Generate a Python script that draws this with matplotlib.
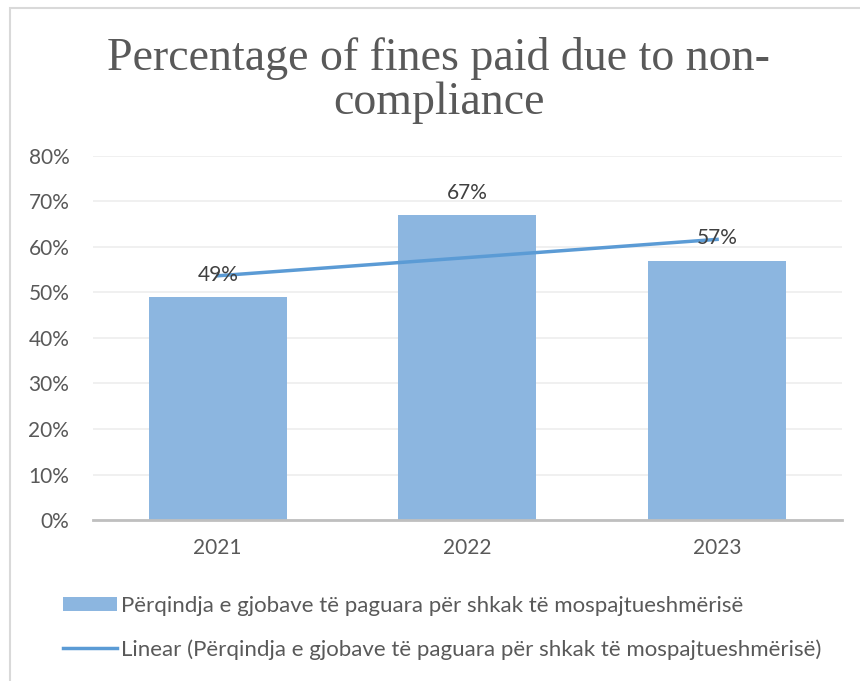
import numpy as np
import matplotlib.pyplot as plt
from matplotlib.patches import Rectangle

years = ['2021', '2022', '2023']
values = [0.49, 0.67, 0.57]
y_ticks = [0, 0.1, 0.2, 0.3, 0.4, 0.5, 0.6, 0.7, 0.8]
y_ticklabels = ['0%', '10%', '20%', '30%', '40%', '50%', '60%', '70%', '80%']
title = 'Percentage of fines paid due to non-\ncompliance'
series_name = 'Përqindja e gjobave të paguara për shkak të mospajtueshmërisë'

plt.rcParams['font.family'] = ['Lato', 'DejaVu Sans']

fig = plt.figure(figsize=(8.6, 6.81), dpi=100)
ax = fig.add_axes([0.108, 0.2364, 0.871, 0.5346])

# outer chart border
fig.patches.append(Rectangle((10 / 860, -0.1), 1.2, 1 - 8 / 681 + 0.1, transform=fig.transFigure,
                             fill=False, edgecolor='#D9D9D9', linewidth=1.5))

x = np.arange(len(years))
bars = ax.bar(x, values, width=0.553, color='#8CB6E0', label=series_name, zorder=2)

# linear trendline
k, b = np.polyfit(x, values, 1)
trend, = ax.plot(x[[0, -1]], k * x[[0, -1]] + b, color='#5B9BD5', linewidth=2.5,
                 label='Linear (' + series_name + ')', zorder=3)

for xi, v in zip(x, values):
    ax.annotate('{:.0f}%'.format(v * 100), (xi, v), xytext=(0, 9), textcoords='offset points',
                ha='center', va='bottom', fontsize=15, color='#404040', zorder=4)

ax.set_xlim(-0.5, 2.5)
ax.set_ylim(0, 0.8)
ax.set_xticks(x)
ax.set_xticklabels(years)
ax.set_yticks(y_ticks)
ax.set_yticklabels(y_ticklabels)
ax.tick_params(axis='both', length=0, labelsize=15, labelcolor='#595959')
ax.tick_params(axis='y', pad=17)
ax.tick_params(axis='x', pad=13)
ax.grid(axis='y', color='#EDEDED', linewidth=1.2, zorder=0)
for s in ['top', 'right', 'left']:
    ax.spines[s].set_visible(False)
ax.spines['bottom'].set_color('#BFBFBF')
ax.spines['bottom'].set_linewidth(2)
ax.spines['bottom'].set_zorder(5)

fig.text(0.51, 0.882, title, ha='center', va='center', fontsize=33, color='#595959',
         family='Liberation Serif', linespacing=1.06)

leg = fig.legend([bars, trend], [series_name, 'Linear (' + series_name + ')'],
                 loc='center left', bbox_to_anchor=(0.073, 0.078), frameon=False, fontsize=16,
                 handlelength=2.45, handleheight=0.6, handletextpad=0.15, labelspacing=1.05,
                 borderaxespad=0, borderpad=0)
for t in leg.get_texts():
    t.set_color('#595959')

fig.savefig('out.png', dpi=100)
